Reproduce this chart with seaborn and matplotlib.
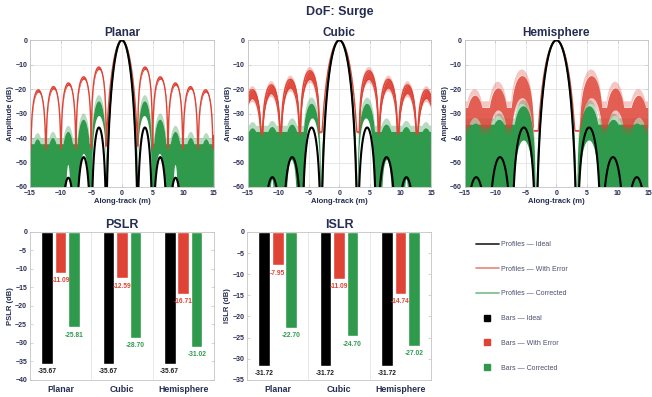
import numpy as np
import pandas as pd
import matplotlib
matplotlib.use("Agg")
import matplotlib.pyplot as plt
import seaborn as sns
from matplotlib.lines import Line2D

# ---------------------------------------------------------------------------
# Impulse-response profiles (positive half, mirrored about x = 0).
# Each profile is described by its main-lobe null, side-lobe nulls and
# side-lobe peak levels (dB).
# ---------------------------------------------------------------------------
planar_ideal_main = 2.75
planar_ideal_nulls = [2.5, 5.0, 7.5, 10.0, 12.5, 15.0]
planar_ideal_peaks = [-35.7, -47.8, -56.2, -61.5, -65.0]

planar_error_main = 3.15
planar_error_nulls = [2.55, 5.0, 7.5, 9.95, 12.4, 14.9, 17.4]
planar_error_peaks = [-11.0, -15.0, -17.5, -19.0, -20.3, -21.0]
planar_error_depth = -44.0

planar_corr_main = 2.8
planar_corr_nulls = [2.5, 5.0, 7.5, 10.0, 12.5, 15.0]
planar_corr_peaks = [-25.0, -32.5, -37.5, -40.0, -40.5]
planar_corr_floor = -42.5
planar_hole_starts = [2.5, 5.3, 8.35]
planar_hole_ends = [4.9, 7.1, 9.15]
planar_hole_peaks = [-31.0, -46.5, -51.0]

cubic_ideal_main = 3.15
cubic_ideal_nulls = [3.0, 6.1, 9.35, 12.6, 15.8]
cubic_ideal_peaks = [-35.7, -47.8, -56.0, -62.0]

cubic_error_main = 3.65
cubic_error_nulls = [3.2, 6.45, 9.6, 12.7, 15.8]
cubic_error_peaks = [-12.5, -16.0, -18.3, -20.3]
cubic_error_depth = -37.5

cubic_corr_main = 3.2
cubic_corr_nulls = [3.0, 6.1, 9.35, 12.6, 15.8]
cubic_corr_peaks = [-26.0, -34.5, -35.5, -36.0]
cubic_corr_floor = -37.5
cubic_hole_starts = [3.1, 6.9, 10.6]
cubic_hole_ends = [5.7, 8.7, 11.4]
cubic_hole_peaks = [-32.0, -49.0, -57.0]

hemi_ideal_main = 3.5
hemi_ideal_nulls = [3.4, 7.3, 11.2, 15.1]
hemi_ideal_peaks = [-35.7, -47.8, -56.0]

hemi_error_main = 3.85
hemi_error_nulls = [3.65, 7.7, 11.5, 15.3]
hemi_error_peaks = [-14.5, -19.5, -22.5]
hemi_error_depth = -37.0
hemi_error_floor = -27.5
hemi_error_bottom = -35.5

hemi_corr_main = 3.55
hemi_corr_nulls = [3.4, 7.4, 11.3, 15.2]
hemi_corr_peaks = [-27.0, -32.5, -34.0]
hemi_corr_floor = -34.5
hemi_hole_starts = [3.7]
hemi_hole_ends = [7.0]
hemi_hole_peaks = [-41.0]

# ---------------------------------------------------------------------------
# Image-quality metrics
# ---------------------------------------------------------------------------
geometries = ["Planar", "Cubic", "Hemisphere"]
series_names = ["Ideal", "With Error", "Corrected"]
pslr_ideal = [-35.67, -35.67, -35.67]
pslr_error = [-11.09, -12.59, -16.71]
pslr_corrected = [-25.81, -28.70, -31.02]
islr_ideal = [-31.72, -31.72, -31.72]
islr_error = [-7.95, -11.09, -14.74]
islr_corrected = [-22.70, -24.70, -27.02]

# ---------------------------------------------------------------------------
sns.set_theme(style="white")
plt.rcParams["font.family"] = ["Liberation Sans", "DejaVu Sans"]

NAVY = "#262d52"
RED = "#df4336"
GREEN = "#2f9a4c"
BLACK = "#000000"
GRID = "#e4e4e4"
SPINE = "#c4c4c4"

x = np.linspace(-15, 15, 6001)
ax_x = np.abs(x)


def main_lobe(n, sharp=4.0):
    y = np.full_like(x, -200.0)
    m = ax_x < n
    c = np.cos(np.pi * x[m] / (2 * n))
    y[m] = sharp * 20 * np.log10(np.maximum(c, 1e-10))
    return y


def arches(starts, ends, peaks, sharp=1.0):
    y = np.full_like(x, -200.0)
    for a, b, p in zip(starts, ends, peaks):
        m = (ax_x > a) & (ax_x < b)
        s = np.sin(np.pi * (ax_x[m] - a) / (b - a))
        y[m] = np.maximum(y[m], p + sharp * 20 * np.log10(np.maximum(s, 1e-10)))
    return y


def side_lobes(nulls, peaks, sharp=1.0):
    return arches(nulls[:-1], nulls[1:], peaks, sharp)


def line(ax, y, color, lw, z, mask=None):
    """Draw y over x, one segment per contiguous run of the mask."""
    if mask is None:
        mask = np.ones_like(x, dtype=bool)
    idx = np.flatnonzero(mask)
    if idx.size == 0:
        return
    breaks = np.flatnonzero(np.diff(idx) > 1)
    for run in np.split(idx, breaks + 1):
        sns.lineplot(x=x[run], y=y[run], color=color, lw=lw, ax=ax,
                     estimator=None, sort=False, zorder=z)


def style_axes(ax):
    for sp in ax.spines.values():
        sp.set_color(SPINE)
        sp.set_linewidth(0.6)
    ax.tick_params(direction="in", length=2, width=0.5, colors=SPINE,
                   labelcolor=NAVY, labelsize=5, pad=2,
                   top=True, right=True, bottom=True, left=True)
    for lbl in ax.get_xticklabels() + ax.get_yticklabels():
        lbl.set_fontweight("bold")


def draw_profile(ax, title,
                 i_main, i_nulls, i_peaks,
                 e_main, e_nulls, e_peaks, e_depth, e_band, e_floor, e_floor_start,
                 e_bottom, e_fringe, e_alpha,
                 c_main, c_nulls, c_peaks, c_floor, c_floor_start,
                 h_starts, h_ends, h_peaks):
    # corrected: noisy floor with coherent side lobes
    ug = side_lobes(c_nulls, c_peaks)
    ug = np.where(ax_x > c_floor_start, np.maximum(ug, c_floor), ug)
    lg = np.maximum(-60.0, arches(h_starts, h_ends, h_peaks))
    ok = (ax_x >= c_nulls[0]) & (ug > lg)
    ax.fill_between(x, lg, ug, where=ok, color=GREEN, lw=0, zorder=1)
    ax.fill_between(x, ug, ug + 2.5, where=ok, color=GREEN, alpha=0.35,
                    lw=0, zorder=1)

    # with error: banded profile
    ue = np.maximum(main_lobe(e_main), side_lobes(e_nulls, e_peaks))
    ue = np.where(ax_x > e_floor_start, np.maximum(ue, e_floor), ue)
    ue = np.maximum(ue, e_depth)
    side = ax_x >= e_nulls[0]
    le = np.where(side, np.maximum(ue - e_band, e_bottom), ue - 0.3)
    le = np.minimum(le, ue - 0.3)
    ax.fill_between(x, le, ue, color=RED, alpha=e_alpha, lw=0, zorder=2)
    if e_fringe > 0:
        ax.fill_between(x, ue, ue + e_fringe, where=side, color=RED,
                        alpha=0.3, lw=0, zorder=2)
        ax.fill_between(x, le - e_fringe, le, where=side, color=RED,
                        alpha=0.3, lw=0, zorder=2)
    if e_band >= 5:
        line(ax, ue, RED, 0.9, 2.5, ~side)
    else:
        line(ax, ue, RED, 1.0, 2.5)
        if e_fringe > 0:
            line(ax, le, RED, 0.8, 2.5, side)

    # corrected main lobe
    gm = main_lobe(c_main)
    line(ax, gm, GREEN, 1.3, 3, ax_x < c_main)

    # ideal
    yi = np.maximum(main_lobe(i_main), side_lobes(i_nulls, i_peaks, sharp=2.0))
    line(ax, yi, BLACK, 1.5, 4)

    ax.set_xlim(-15, 15)
    ax.set_ylim(-60, 0)
    ax.set_xticks(range(-15, 16, 5))
    ax.set_yticks(range(-60, 1, 10))
    ax.grid(True, color=GRID, lw=0.6, zorder=0)
    ax.set_axisbelow(True)
    ax.set_title(title, fontsize=8.5, fontweight="bold", color=NAVY, pad=3)
    ax.set_xlabel("Along-track (m)", fontsize=5.5, fontweight="bold",
                  color=NAVY, labelpad=1)
    ax.set_ylabel("Amplitude (dB)", fontsize=5.5, fontweight="bold",
                  color=NAVY, labelpad=1)
    style_axes(ax)


fig = plt.figure(figsize=(6.52, 3.97), dpi=100)
ax_p = fig.add_axes([0.046, 0.529, 0.282, 0.370])
ax_c = fig.add_axes([0.380, 0.529, 0.281, 0.370])
ax_h = fig.add_axes([0.713, 0.529, 0.281, 0.370])

draw_profile(ax_p, "Planar",
             planar_ideal_main, planar_ideal_nulls, planar_ideal_peaks,
             planar_error_main, planar_error_nulls, planar_error_peaks,
             planar_error_depth, 1.0, -100.0, 99.0, -100.0, 0.0, 1.0,
             planar_corr_main, planar_corr_nulls, planar_corr_peaks,
             planar_corr_floor, 4.8,
             planar_hole_starts, planar_hole_ends, planar_hole_peaks)
draw_profile(ax_c, "Cubic",
             cubic_ideal_main, cubic_ideal_nulls, cubic_ideal_peaks,
             cubic_error_main, cubic_error_nulls, cubic_error_peaks,
             cubic_error_depth, 3.5, -100.0, 99.0, -38.0, 1.5, 0.95,
             cubic_corr_main, cubic_corr_nulls, cubic_corr_peaks,
             cubic_corr_floor, 5.8,
             cubic_hole_starts, cubic_hole_ends, cubic_hole_peaks)
draw_profile(ax_h, "Hemisphere",
             hemi_ideal_main, hemi_ideal_nulls, hemi_ideal_peaks,
             hemi_error_main, hemi_error_nulls, hemi_error_peaks,
             hemi_error_depth, 9.0, hemi_error_floor, 4.6, hemi_error_bottom,
             2.5, 0.85,
             hemi_corr_main, hemi_corr_nulls, hemi_corr_peaks,
             hemi_corr_floor, 4.0,
             hemi_hole_starts, hemi_hole_ends, hemi_hole_peaks)

fig.text(0.521, 0.971, "DoF: Surge", ha="center", va="center",
         fontsize=9, fontweight="bold", color=NAVY)


# ---------------------------------------------------------------------------
# Bar charts
# ---------------------------------------------------------------------------
def metric_frame(ideal, error, corrected):
    rows = []
    for name, vals in zip(series_names, [ideal, error, corrected]):
        for g, v in zip(geometries, vals):
            rows.append({"geometry": g, "series": name, "value": v})
    return pd.DataFrame(rows)


def draw_bars(ax, title, ylabel, ideal, error, corrected, ymin):
    df = metric_frame(ideal, error, corrected)
    sns.barplot(data=df, x="geometry", y="value", hue="series",
                hue_order=series_names, order=geometries,
                palette=[BLACK, RED, GREEN], saturation=1, width=0.66,
                gap=0.14, legend=False, ax=ax, zorder=2)
    label_colors = ["#1a1a1a", RED, GREEN]
    for cont, col in zip(ax.containers, label_colors):
        for bar in cont:
            v = bar.get_height()
            ax.annotate(f"{v:.2f}", (bar.get_x() + bar.get_width() / 2, v),
                        xytext=(0, -3), textcoords="offset points",
                        ha="center", va="top", fontsize=4.8,
                        fontweight="bold", color=col, zorder=3)
    for xb in (0.5, 1.5):
        ax.axvline(xb, color=GRID, lw=0.6, zorder=0)
    ax.set_xlim(-0.5, 2.5)
    ax.set_ylim(ymin, 0)
    ax.set_yticks(range(ymin, 1, 5))
    ax.set_title(title, fontsize=9, fontweight="bold", color=NAVY, pad=3)
    ax.set_xlabel("")
    ax.set_ylabel(ylabel, fontsize=5.5, fontweight="bold", color=NAVY,
                  labelpad=1)
    style_axes(ax)
    ax.tick_params(axis="x", labelsize=6.3, length=0, pad=4)
    for lbl in ax.get_xticklabels():
        lbl.set_fontweight("bold")


ax_ps = fig.add_axes([0.046, 0.043, 0.282, 0.373])
ax_is = fig.add_axes([0.379, 0.043, 0.282, 0.373])
draw_bars(ax_ps, "PSLR", "PSLR (dB)", pslr_ideal, pslr_error, pslr_corrected, -40)
draw_bars(ax_is, "ISLR", "ISLR (dB)", islr_ideal, islr_error, islr_corrected, -35)

# ---------------------------------------------------------------------------
# Shared legend
# ---------------------------------------------------------------------------
handles = [
    Line2D([], [], color="#333333", lw=1.3),
    Line2D([], [], color=RED, lw=1.3, alpha=0.6),
    Line2D([], [], color=GREEN, lw=1.3, alpha=0.6),
    Line2D([], [], ls="", marker="s", ms=4, color=BLACK),
    Line2D([], [], ls="", marker="s", ms=4, color=RED),
    Line2D([], [], ls="", marker="s", ms=4, color=GREEN),
]
labels = ["Profiles \u2014 Ideal", "Profiles \u2014 With Error",
          "Profiles \u2014 Corrected", "Bars \u2014 Ideal",
          "Bars \u2014 With Error", "Bars \u2014 Corrected"]
leg = fig.legend(handles, labels, loc="upper left",
                 bbox_to_anchor=(0.722, 0.405), frameon=False,
                 fontsize=5, handlelength=3.3, handletextpad=0.3,
                 labelspacing=2.55, borderpad=0.2)
for t in leg.get_texts():
    t.set_color("#4a4f70")

fig.savefig("out.png", dpi=100)
